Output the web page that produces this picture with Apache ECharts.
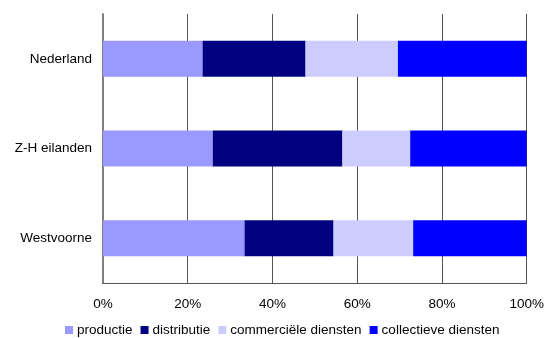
<!DOCTYPE html>
<html>
<head>
<meta charset="utf-8">
<script src="https://cdn.jsdelivr.net/npm/echarts@6/dist/echarts.min.js"></script>
<style>
  html, body { margin: 0; padding: 0; background: #fff; }
  #chart { width: 547px; height: 338px; }
</style>
</head>
<body>
<div id="chart"></div>
<script>
// Regions, top to bottom
const regions = ['Nederland', 'Z-H eilanden', 'Westvoorne'];

// Share of employment per sector (%)
const productie = [23.5, 25.9, 33.4];
const distributie = [24.3, 30.6, 21.0];
const commercieel = [21.8, 16.0, 18.8];
const collectief = [30.4, 27.5, 26.8];

const sectorNames = ['productie', 'distributie', 'commerciële diensten', 'collectieve diensten'];
const sectorValues = [productie, distributie, commercieel, collectief];
const sectorColors = ['#9999FF', '#000080', '#CCCCFF', '#0000FF'];

const tickValues = [0, 20, 40, 60, 80, 100];

const font = 'Liberation Sans, Arial, sans-serif';
const fontSize = 13.5;

const chart = echarts.init(document.getElementById('chart'), null, { renderer: 'canvas' });

chart.setOption({
  animation: false,
  backgroundColor: '#ffffff',
  textStyle: { fontFamily: font },
  grid: { left: 103, right: 19, top: 14, bottom: 55, containLabel: false },
  legend: {
    top: 318,
    left: 60,
    itemWidth: 8,
    itemHeight: 8,
    itemGap: 8,
    icon: 'rect',
    textStyle: { fontFamily: font, fontSize: fontSize, color: '#000', padding: [0, 0, 0, -1] },
    data: sectorNames
  },
  xAxis: {
    type: 'value',
    min: tickValues[0],
    max: tickValues[tickValues.length - 1],
    interval: tickValues[1] - tickValues[0],
    axisLine: { show: true, lineStyle: { color: '#555', width: 1 } },
    axisTick: { show: false },
    splitLine: { show: true, lineStyle: { color: '#555', width: 1 } },
    axisLabel: {
      margin: 14,
      fontFamily: font,
      fontSize: fontSize,
      color: '#000',
      formatter: v => v + '%'
    }
  },
  yAxis: {
    type: 'category',
    inverse: true,
    data: regions,
    axisLine: { show: true, lineStyle: { color: '#808080', width: 2 } },
    axisTick: { show: false },
    splitLine: { show: false },
    axisLabel: { margin: 11, fontFamily: font, fontSize: fontSize, color: '#000' }
  },
  series: sectorNames.map((name, i) => ({
    name: name,
    type: 'bar',
    stack: 'total',
    barWidth: 36,
    itemStyle: { color: sectorColors[i] },
    data: sectorValues[i]
  }))
});
</script>
</body>
</html>
